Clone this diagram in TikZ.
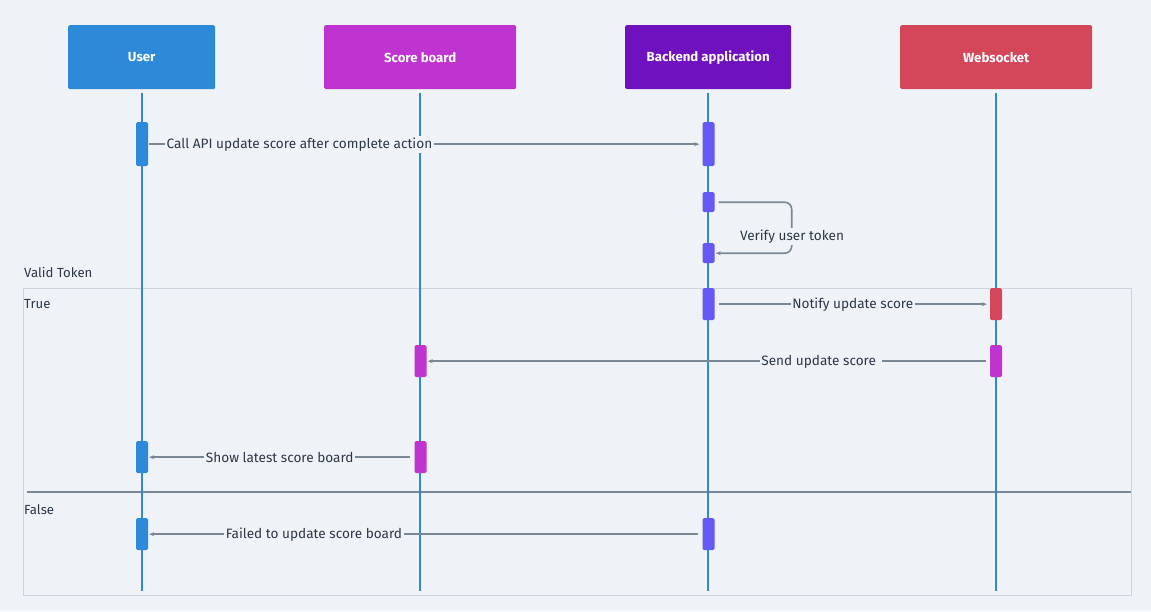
\documentclass[tikz,border=0pt]{standalone}
\usepackage{fontspec}
\setmainfont{Fira Sans}
\usetikzlibrary{arrows.meta}
\definecolor{bg}{HTML}{EFF3F7}
\definecolor{cUser}{HTML}{2D8AD9}
\definecolor{cScore}{HTML}{BF33D1}
\definecolor{cBack}{HTML}{7011BF}
\definecolor{cWeb}{HTML}{D4475A}
\definecolor{cAct}{HTML}{6658F5}
\definecolor{cLine}{HTML}{7A8896}
\definecolor{cFrame}{HTML}{CDD5DC}
\definecolor{cText}{HTML}{2D3748}
\tikzset{
  x=1pt,y=-1pt,
  actor/.style={rounded corners=1.5pt,text=white,font=\fontsize{13.2}{15}\selectfont\bfseries,inner sep=0pt,anchor=north west},
  life/.style={draw=cUser,line width=1.5pt},
  act/.style={rounded corners=1.5pt,inner sep=0pt,minimum width=12pt,anchor=north},
  msg/.style={draw=cLine,line width=1.6pt,-{Stealth[length=5pt,width=4pt]}},
  lbl/.style={fill=bg,text=cText,font=\fontsize{13.6}{15}\selectfont,inner sep=1.5pt,yshift=-0.5pt},
  ftxt/.style={text=cText,font=\fontsize{13.2}{15}\selectfont,anchor=west,inner sep=0pt}
}
\begin{document}
\begin{tikzpicture}
\fill[bg] (0,0) rectangle (1151,611);
\useasboundingbox (0,0) rectangle (1151,611);
% frame
\draw[cFrame,line width=0.8pt] (23,288) rectangle (1131,595);
\node[ftxt] (vt) at (24,272.5) {Valid Token};
\node[ftxt] (tr) at (24,304.5) {True};
\node[ftxt] (fa) at (24,509.5) {False};
\coordinate (dl) at (27,492);
\coordinate (dr) at (1131,492);
\draw[cLine,line width=1.6pt] (dl) -- (dr);
% actors
\node[actor,fill=cUser,minimum width=147pt,minimum height=64pt] (user) at (68,25) {\raisebox{-2pt}{User}};
\node[actor,fill=cScore,minimum width=192pt,minimum height=64pt] (score) at (324,25) {\raisebox{-2pt}{Score board}};
\node[actor,fill=cBack,minimum width=166pt,minimum height=64pt] (back) at (625,25) {\raisebox{-2pt}{Backend application}};
\node[actor,fill=cWeb,minimum width=192pt,minimum height=64pt] (web) at (900,25) {\raisebox{-2pt}{Websocket}};
% lifelines
\coordinate (uT) at (142,93); \coordinate (uB) at (142,591);
\coordinate (sT) at (420,93); \coordinate (sB) at (420,591);
\coordinate (bT) at (708,93); \coordinate (bB) at (708,591);
\coordinate (wT) at (996,93); \coordinate (wB) at (996,591);
\draw[life] (uT) -- (uB);
\draw[life] (sT) -- (sB);
\draw[life] (bT) -- (bB);
\draw[life] (wT) -- (wB);
% activations
\node[act,fill=cUser,minimum height=44pt] (u1) at (142,122) {};
\node[act,fill=cAct,minimum height=44pt] (b1) at (708.5,122) {};
\node[act,fill=cAct,minimum height=20pt] (b2) at (708.5,192) {};
\node[act,fill=cAct,minimum height=20pt] (b3) at (708.5,243) {};
\node[act,fill=cAct,minimum height=32pt] (b4) at (708.5,288) {};
\node[act,fill=cWeb,minimum height=32pt] (w1) at (996,288) {};
\node[act,fill=cScore,minimum height=32pt] (w2) at (996,345) {};
\node[act,fill=cScore,minimum height=32pt] (s1) at (420.5,345) {};
\node[act,fill=cScore,minimum height=32pt] (s2) at (420.5,441) {};
\node[act,fill=cUser,minimum height=32pt] (u2) at (142,441) {};
\node[act,fill=cUser,minimum height=32pt] (u3) at (142,518) {};
\node[act,fill=cAct,minimum height=32pt] (b5) at (708.5,518) {};
% messages
\draw[msg] ([xshift=1pt]u1.east) -- node[lbl,pos=0.273] {Call API update score after complete action} ([xshift=-3pt]b1.west);
\draw[msg,rounded corners=7pt] ([xshift=4pt]b2.east) -- ++(73,0) |- ([xshift=1pt]b3.east);
\node[lbl] (vut) at (792,236) {Verify user token};
\draw[msg] ([xshift=4pt]b4.east) -- node[lbl,pos=0.5] {Notify update score} ([xshift=-3pt]w1.west);
\draw[msg] ([xshift=-4pt]w2.west) -- node[lbl,pos=0.295] {Send update score\kern5pt} ([xshift=1pt]s1.east);
\draw[msg] ([xshift=-4pt]s2.west) -- node[lbl,pos=0.50] {Show latest score board} ([xshift=1pt]u2.east);
\draw[msg] ([xshift=-4pt]b5.west) -- node[lbl,pos=0.70] {Failed to update score board} ([xshift=1pt]u3.east);
\end{tikzpicture}
\end{document}
